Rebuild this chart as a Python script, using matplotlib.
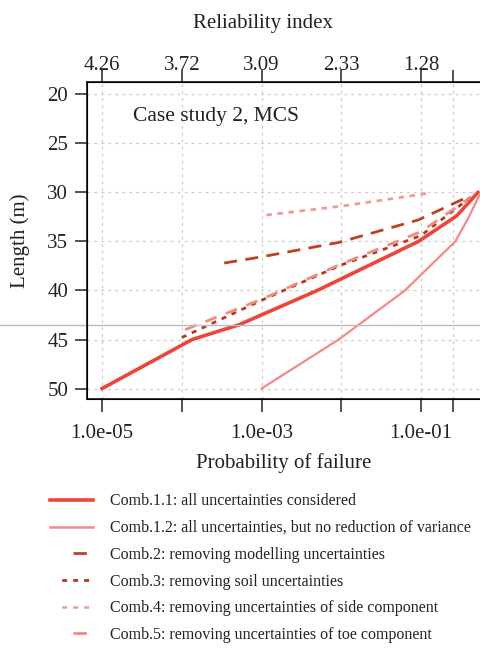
import matplotlib
matplotlib.use("Agg")
import matplotlib.pyplot as plt
from matplotlib.lines import Line2D
import numpy as np

plt.rcParams['font.family'] = ['Liberation Serif', 'DejaVu Serif']
plt.rcParams['lines.scale_dashes'] = False

# probability of failure vs length
pf_11 = [1e-5, 1.35e-4, 5.2e-4, 5e-3, 9.3e-2, 0.28, 0.52]
len_11 = [50, 45, 43.5, 40, 35, 32.4, 30]

pf_12 = [1e-3, 9.3e-3, 6.3e-2, 0.13, 0.27, 0.4, 0.56]
len_12 = [50, 45, 40, 37.5, 35, 32.5, 30]

pf_2 = [3.4e-4, 9.5e-4, 9.3e-3, 9.3e-2, 0.4]
len_2 = [37.2, 36.6, 35.1, 32.8, 30.4]

pf_3 = [1e-4, 1e-3, 1e-2, 1e-1, 0.45]
len_3 = [44.8, 41.0, 37.4, 34.4, 30.3]

pf_4 = [1.15e-3, 1e-2, 1.2e-1]
len_4 = [32.3, 31.4, 30.1]

pf_5 = [1.1e-4, 1e-3, 1e-2, 1e-1, 0.42]
len_5 = [44.0, 40.9, 37.3, 34.0, 30.5]

ref_length = 43.5

xticks = [1e-5, 1e-4, 1e-3, 1e-2, 1e-1, 0.25]
xlabels = ["1.0e-05", "", "1.0e-03", "", "1.0e-01", ""]
beta_labels = ["4.26", "3.72", "3.09", "2.33", "1.28", ""]

labels = ["Comb.1.1: all uncertainties considered",
          "Comb.1.2: all uncertainties, but no reduction of variance",
          "Comb.2: removing modelling uncertainties",
          "Comb.3: removing soil uncertainties",
          "Comb.4: removing uncertainties of side component",
          "Comb.5: removing uncertainties of toe component"]

ink = '#222222'
c11, c12, c2, c3, c4, c5 = '#EE4538', '#F2898A', '#C0401E', '#B83A1E', '#F49A94', '#F28A84'

fig = plt.figure(figsize=(4.81, 6.49), dpi=100)
ax = fig.add_axes([87 / 481, 1 - 399.3 / 649, 394 / 481, (399.3 - 81.7) / 649])

ax.set_xscale('log')
ax.set_xlim(10 ** -5.19, 10 ** -0.246)
ax.set_ylim(51.1, 18.7)

ax.grid(True, which='major', color='#cccccc', linestyle=(0, (2, 3)), linewidth=0.9)
ax.set_axisbelow(True)

ax.plot(pf_11, len_11, color=c11, lw=2.6)
ax.plot(pf_12, len_12, color=c12, lw=1.6)
ax.plot(pf_2, len_2, color=c2, lw=2.0, dashes=(9.4, 6.0))
ax.plot(pf_3, len_3, color=c3, lw=2.0, dashes=(3.6, 4.3))
ax.plot(pf_4, len_4, color=c4, lw=2.0, dashes=(4.0, 4.0))
ax.plot(pf_5, len_5, color=c5, lw=2.0, dashes=(8.6, 7.2))

# reference length line, runs out to the left figure edge
ax.plot([-87 / 394, 1], [ref_length, ref_length], color='#bbbbbb', lw=1.0,
        transform=ax.get_yaxis_transform(), clip_on=False)

ax.set_xticks(xticks)
ax.set_xticklabels(xlabels)
ax.minorticks_off()
ax.set_yticks([20, 25, 30, 35, 40, 45, 50])
ax.tick_params(axis='x', direction='out', length=9.5, width=1.1, labelsize=15, pad=8.5, colors=ink)
ax.tick_params(axis='y', direction='out', length=8.5, width=1.1, labelsize=15, pad=5, colors=ink)
ax.spines['right'].set_visible(False)
for s in ['left', 'bottom', 'top']:
    ax.spines[s].set_linewidth(1.3)
    ax.spines[s].set_color(ink)

ax.set_xlabel("Probability of failure", fontsize=15, color=ink)
ax.xaxis.set_label_coords(0.5, -0.168)
ax.set_ylabel("Length (m)", fontsize=15, color=ink)
ax.yaxis.set_label_coords(-0.144, 0.5)

top = ax.twiny()
top.set_xscale('log')
top.set_xlim(ax.get_xlim())
top.set_xticks(xticks)
top.set_xticklabels(beta_labels)
top.minorticks_off()
top.tick_params(direction='out', length=9, width=1.1, labelsize=15, pad=-4, colors=ink)
top.spines['right'].set_visible(False)
top.set_xlabel("Reliability index", fontsize=15, color=ink)
top.xaxis.set_label_coords(0.447, 1.169)

ax.text(0.118, 0.889, "Case study 2, MCS", transform=ax.transAxes, fontsize=15.5,
        ha='left', va='center', color=ink)

# legend keys drawn the way the original key shows them
handles = [
    Line2D([], [], color=c11, lw=2.6),
    Line2D([], [], color=c12, lw=1.8),
    Line2D([], [], color=c2, lw=2.0, linestyle=(0, (0.001, 16.6, 9.6, 100))),
    Line2D([], [], color=c3, lw=2.0, linestyle=(0, (0.001, 8.4, 3.6, 4.3, 3.6, 4.3, 3.6, 100))),
    Line2D([], [], color=c4, lw=1.8, linestyle=(0, (0.001, 8.4, 3.6, 4.3, 3.6, 4.3, 3.6, 100))),
    Line2D([], [], color=c5, lw=2.0, linestyle=(0, (0.001, 16.6, 9.6, 100))),
]
leg = fig.legend(handles, labels, loc='upper left', bbox_to_anchor=(0.0906, 0.2496),
                 frameon=False, fontsize=11.5, handlelength=2.7, handletextpad=1.06,
                 labelspacing=0.67, borderaxespad=0)
for t in leg.get_texts():
    t.set_color(ink)

fig.savefig("out.png", dpi=100)
